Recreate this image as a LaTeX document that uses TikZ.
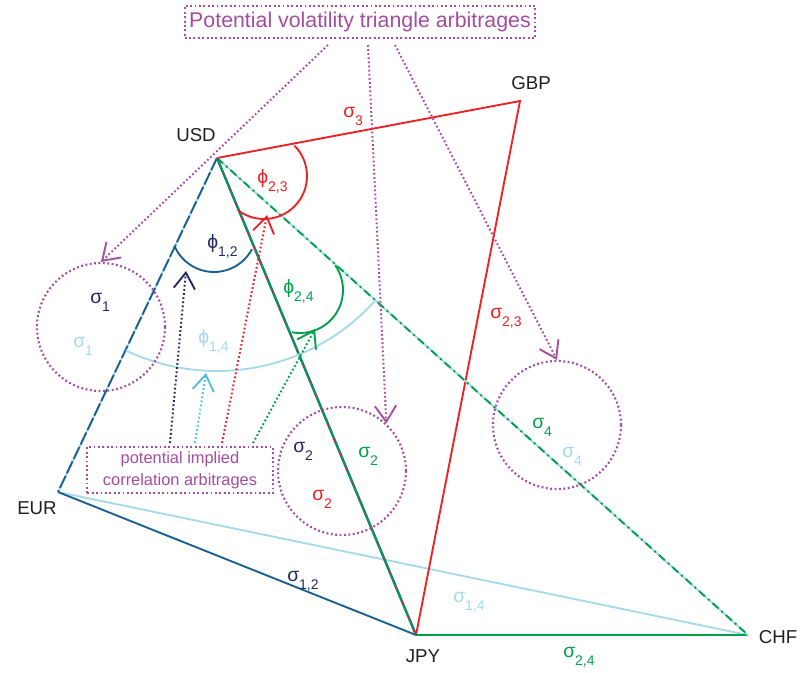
\documentclass[tikz,border=0pt]{standalone}
\usepackage{fontspec}
\setmainfont{Liberation Sans}
\usetikzlibrary{arrows.meta}
\definecolor{cred}{RGB}{237,32,36}
\definecolor{cgreen}{RGB}{0,160,75}
\definecolor{cnavy}{RGB}{35,40,95}
\definecolor{cblue}{RGB}{25,95,145}
\definecolor{clight}{RGB}{165,218,235}
\definecolor{ccyan}{RGB}{80,190,225}
\definecolor{cpurple}{RGB}{165,75,160}
\definecolor{ctext}{RGB}{35,31,32}
\newcommand\subx[1]{\raisebox{-6pt}{\fontsize{10.5}{12}\selectfont #1}}
\newcommand\sg[1]{σ\subx{#1}}
\newcommand\ph[1]{ϕ\subx{#1}}
\begin{document}
\begin{tikzpicture}[x=0.75pt,y=-0.75pt,
  every node/.style={inner sep=0pt, font=\fontsize{14}{16}\selectfont},
  edge/.style={line width=1.4pt},
  arcst/.style={line width=1.4pt},
  cur/.style={text=ctext},
  gl/.style={anchor=base west, font=\fontsize{14.5}{16}\selectfont},
  dotp/.style={cpurple, line width=1.6pt, dash pattern=on 1.4pt off 1.9pt},
  dota/.style={line width=1.5pt, dash pattern=on 1.3pt off 1.8pt,
    -{Straight Barb[length=12pt,width=16pt,line width=1.4pt]}},
  circ/.style={circle, draw, dotp, minimum size=96pt, inner sep=0pt},
  boxst/.style={draw, dotp, text=cpurple, align=center}
]
\useasboundingbox (0,0) rectangle (805,672);

% vertices
\coordinate (USD) at (217,158);
\coordinate (GBP) at (520,101);
\coordinate (EUR) at (58,492);
\coordinate (JPY) at (416,635);
\coordinate (CHF) at (748,635);

% edges
\draw[edge, clight] (EUR) -- (CHF);
\draw[edge, cblue] (EUR) -- (JPY);
\draw[edge, cgreen] (JPY) -- (CHF);
\draw[edge, cred] (USD) -- (GBP) -- (JPY);
\draw[edge, clight] (USD) -- (EUR);
\draw[edge, cblue, dash pattern=on 10pt off 2pt] (USD) -- (EUR);
\draw[edge, clight] (USD) -- (CHF);
\draw[edge, cgreen, dash pattern=on 6pt off 3pt on 1.5pt off 3pt] (USD) -- (CHF);
\draw[line width=1.8pt, cblue] (USD) -- (JPY);
\draw[line width=1.1pt, cgreen] (USD) -- (JPY);
\draw[line width=0.9pt, cred, dash pattern=on 2pt off 10pt] (USD) -- (JPY);

% angle arcs
\draw[arcst, cred] (264,176) ++(-45:43) arc[start angle=-45, end angle=127, radius=43];
\draw[arcst, cblue] (214,229) ++(28:43) arc[start angle=28, end angle=155, radius=43];
\draw[arcst, cgreen] (300,290) ++(-35:43) arc[start angle=-35, end angle=101, radius=43];
\draw[arcst, clight] (USD) ++(41.9:213) arc[start angle=41.9, end angle=115.4, radius=213];

% circles
\node[circ] (c1) at (101,327) {};
\node[circ] (c2) at (342,471) {};
\node[circ] (c4) at (557,425) {};

% vertex labels
\node[cur] (lUSD) at (196,135) {USD};
\node[cur] (lGBP) at (531,83) {GBP};
\node[cur] (lEUR) at (37,508) {EUR};
\node[cur] (lJPY) at (423,656) {JPY};
\node[cur] (lCHF) at (778,637) {CHF};

% greek labels
\node[gl, text=cnavy] (s1a) at (90,303) {\sg{1}};
\node[gl, text=clight] (s1b) at (73,347) {\sg{1}};
\node[gl, text=cnavy] (p12) at (207,248) {\ph{1,2}};
\node[gl, text=cred] (p23) at (257,183) {\ph{2,3}};
\node[gl, text=cgreen] (p24) at (283,293) {\ph{2,4}};
\node[gl, text=clight] (p14) at (198,343) {\ph{1,4}};
\node[gl, text=cnavy] (s2a) at (293,452) {\sg{2}};
\node[gl, text=cgreen] (s2b) at (358,457) {\sg{2}};
\node[gl, text=cred] (s2c) at (312,500) {\sg{2}};
\node[gl, text=cgreen] (s4a) at (532,428) {\sg{4}};
\node[gl, text=clight] (s4b) at (562,457) {\sg{4}};
\node[gl, text=cred] (s3) at (343,117) {\sg{3}};
\node[gl, text=cred] (s23) at (490,318) {\sg{2,3}};
\node[gl, text=cnavy] (s12) at (287,581) {\sg{1,2}};
\node[gl, text=clight] (s14) at (453,602) {\sg{1,4}};
\node[gl, text=cgreen] (s24) at (563,657) {\sg{2,4}};

% boxes
\node[boxst, font=\fontsize{16}{18}\selectfont, minimum width=263pt, minimum height=24pt] (top) at (360,22) {Potential volatility triangle arbitrages};
\node[boxst, font=\fontsize{12.3}{16.5}\selectfont, minimum width=139pt, minimum height=35pt] (bot) at (180,470) {potential implied\\correlation arbitrages};

% arrows from top box
\coordinate (t1) at (328,45);
\coordinate (t2) at (368,45);
\coordinate (t3) at (395,45);
\draw[dota, cpurple] (t1) -- (c1.north);
\draw[dota, cpurple] (t2) -- (c2.47);
\draw[dota, cpurple] (t3) -- (c4.north);

% arrows from bottom box
\coordinate (b1) at (170,443);
\coordinate (b2) at (195,443);
\coordinate (b3) at (222,443);
\coordinate (b4) at (253,443);
\coordinate (e1) at (186,271);
\coordinate (e2) at (206,373);
\coordinate (e3) at (267,215);
\coordinate (e4) at (315,329);
\draw[dota, cnavy] (b1) -- (e1);
\draw[dota, ccyan] (b2) -- (e2);
\draw[dota, cred] (b3) -- (e3);
\draw[dota, cgreen] (b4) -- (e4);
\end{tikzpicture}
\end{document}
